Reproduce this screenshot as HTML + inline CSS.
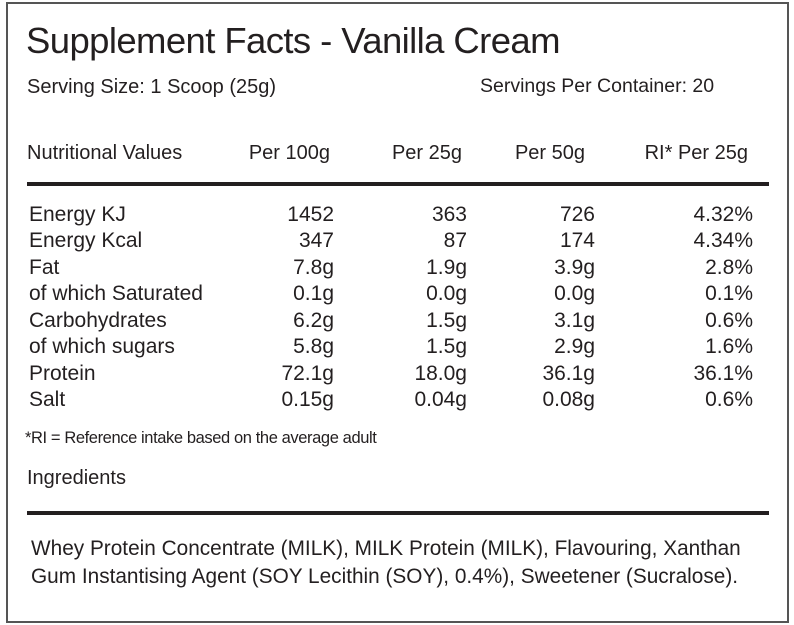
<!DOCTYPE html>
<html><head><meta charset="utf-8"><style>
body{margin:0;width:794px;height:625px;background:#fff;position:relative;overflow:hidden;font-family:"Liberation Sans",sans-serif;color:#231f20}
.b{position:absolute;left:6px;top:2px;width:779px;height:617px;border:2px solid #555}
.t{position:absolute;line-height:1;white-space:nowrap}
.h{position:absolute;left:27px;width:742px;height:4px;background:#231f20}
.row{position:absolute;left:0;width:794px;font-size:21px;line-height:1}
.row span{position:absolute;white-space:nowrap}
.c1{right:460px}.c2{right:327px}.c3{right:199px}.c4{right:41px}
</style></head><body>
<div class="b"></div>
<div class="t" style="left:26px;top:23px;font-size:36.5px;letter-spacing:-0.6px">Supplement Facts - Vanilla Cream</div>
<div class="t" style="left:27px;top:77px;font-size:20px">Serving Size: 1 Scoop (25g)</div>
<div class="t" style="left:480px;top:77px;font-size:19.5px">Servings Per Container: 20</div>
<div class="row" style="top:143px;font-size:20px"><span style="left:27px">Nutritional Values</span><span style="right:464px">Per 100g</span><span style="right:332px">Per 25g</span><span style="right:209px">Per 50g</span><span style="right:46px">RI* Per 25g</span></div>
<div class="h" style="top:182px"></div>
<div class="row" style="top:204px"><span style="left:29px">Energy KJ</span><span class="c1">1452</span><span class="c2">363</span><span class="c3">726</span><span class="c4">4.32%</span></div>
<div class="row" style="top:230px"><span style="left:29px">Energy Kcal</span><span class="c1">347</span><span class="c2">87</span><span class="c3">174</span><span class="c4">4.34%</span></div>
<div class="row" style="top:257px"><span style="left:29px">Fat</span><span class="c1">7.8g</span><span class="c2">1.9g</span><span class="c3">3.9g</span><span class="c4">2.8%</span></div>
<div class="row" style="top:283px"><span style="left:29px">of which Saturated</span><span class="c1">0.1g</span><span class="c2">0.0g</span><span class="c3">0.0g</span><span class="c4">0.1%</span></div>
<div class="row" style="top:310px"><span style="left:29px">Carbohydrates</span><span class="c1">6.2g</span><span class="c2">1.5g</span><span class="c3">3.1g</span><span class="c4">0.6%</span></div>
<div class="row" style="top:336px"><span style="left:29px">of which sugars</span><span class="c1">5.8g</span><span class="c2">1.5g</span><span class="c3">2.9g</span><span class="c4">1.6%</span></div>
<div class="row" style="top:363px"><span style="left:29px">Protein</span><span class="c1">72.1g</span><span class="c2">18.0g</span><span class="c3">36.1g</span><span class="c4">36.1%</span></div>
<div class="row" style="top:389px"><span style="left:29px">Salt</span><span class="c1">0.15g</span><span class="c2">0.04g</span><span class="c3">0.08g</span><span class="c4">0.6%</span></div>
<div class="t" style="left:25px;top:430px;font-size:16.5px;letter-spacing:-0.4px">*RI = Reference intake based on the average adult</div>
<div class="t" style="left:27px;top:468px;font-size:20px">Ingredients</div>
<div class="h" style="top:511px"></div>
<div class="t" style="left:31px;top:539px;font-size:20.8px">Whey Protein Concentrate (MILK), MILK Protein (MILK), Flavouring, Xanthan</div>
<div class="t" style="left:31px;top:567px;font-size:20.8px">Gum Instantising Agent (SOY Lecithin (SOY), 0.4%), Sweetener (Sucralose).</div>
</body></html>
